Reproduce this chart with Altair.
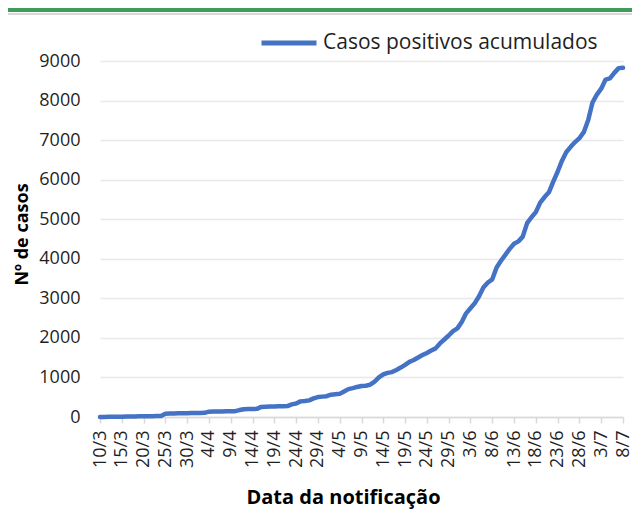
import altair as alt
import pandas as pd

# Daily dates (10/3 .. 8/7) and accumulated positive cases
START = "2020-03-10"
END = "2020-07-08"
CASOS = [
    2, 3, 4, 5, 6, 8, 10, 12, 14, 16,
    18, 20, 22, 25, 28, 85, 88, 90, 92, 94,
    96, 98, 100, 102, 105, 135, 138, 140, 142, 144,
    146, 148, 175, 195, 200, 203, 206, 255, 262, 265,
    268, 270, 272, 275, 320, 340, 395, 405, 420, 470,
    505, 515, 525, 565, 575, 585, 645, 705, 730, 760,
    785, 790, 820, 895, 1000, 1075, 1115, 1135, 1190, 1250,
    1320, 1395, 1440, 1505, 1565, 1620, 1680, 1735, 1860, 1960,
    2060, 2170, 2240, 2400, 2620, 2750, 2880, 3060, 3280, 3400,
    3480, 3780, 3950, 4100, 4250, 4380, 4440, 4560, 4900, 5050,
    5180, 5420, 5560, 5680, 5950, 6200, 6480, 6700, 6830, 6950,
    7050, 7200, 7500, 7950, 8150, 8300, 8530, 8560, 8700, 8820,
    8830,
]
TICK_LABELS = ["10/3", "15/3", "20/3", "25/3", "30/3", "4/4", "9/4", "14/4",
               "19/4", "24/4", "29/4", "4/5", "9/5", "14/5", "19/5", "24/5",
               "29/5", "3/6", "8/6", "13/6", "18/6", "23/6", "28/6", "3/7", "8/7"]
Y_TICKS = [0, 1000, 2000, 3000, 4000, 5000, 6000, 7000, 8000, 9000]
SERIE = "Casos positivos acumulados"

dias = pd.date_range(START, END, freq="D")
df = pd.DataFrame({
    "data": [f"{d.day}/{d.month}" for d in dias],
    "casos": CASOS,
    "serie": SERIE,
})

FONT = "Open Sans"
TXT = "#1f1f1f"
W, H = 523, 356

line = alt.Chart(df).mark_line(strokeWidth=4.5, strokeCap="round", strokeJoin="round").encode(
    x=alt.X("data:O", sort=None,
            scale=alt.Scale(type="point", padding=0),
            axis=alt.Axis(values=TICK_LABELS, labelAngle=-90, labelFont=FONT,
                          labelFontSize=18, labelColor=TXT, labelPadding=7,
                          tickSize=6, tickColor="#d9d9d9", tickWidth=1.5,
                          domainColor="#d9d9d9", domainWidth=1.5, grid=False,
                          title="Data da notificação", titleFont=FONT,
                          titleFontSize=20, titleFontWeight="bold", titleColor="#000000",
                          titleX=243, titleY=86, titleAnchor="middle",
                          titleBaseline="alphabetic")),
    y=alt.Y("casos:Q",
            scale=alt.Scale(domain=[0, 9000], nice=False),
            axis=alt.Axis(values=Y_TICKS, format="d", labelFont=FONT, labelFontSize=18,
                          labelColor=TXT, labelPadding=20, ticks=False, domain=False,
                          gridColor="#e8e8e8", gridWidth=1.5,
                          title="Nº de casos", titleFont=FONT, titleFontSize=18,
                          titleFontWeight="bold", titleColor="#000000",
                          titleX=-73, titleY=173, titleAngle=270,
                          titleBaseline="alphabetic", titleAnchor="middle")),
    color=alt.Color("serie:N", scale=alt.Scale(range=["#4472C4"]),
                    legend=alt.Legend(orient="none", legendX=159, legendY=-48,
                                      title=None, symbolType="stroke",
                                      symbolSize=3025, symbolStrokeWidth=5,
                                      labelFont=FONT, labelFontSize=21, labelLimit=0,
                                      labelColor=TXT, labelOffset=4)),
)

deco = pd.DataFrame({"k": [0]})
green = alt.Chart(deco).mark_rule(color="#3f9c5a", strokeWidth=4).encode(
    x=alt.value(-92), x2=alt.value(540), y=alt.value(-51))
grey = alt.Chart(deco).mark_rule(color="#d9d9d9", strokeWidth=2).encode(
    x=alt.value(-92), x2=alt.value(540), y=alt.value(-47))

chart = alt.layer(green, grey, line).properties(
    width=W, height=H,
    padding={"left": 92, "top": 53, "right": 9, "bottom": 93},
    autosize=alt.AutoSizeParams(type="none"),
).configure_view(stroke=None)

chart.save("out.html", embed_options={"renderer": "svg", "actions": False})
